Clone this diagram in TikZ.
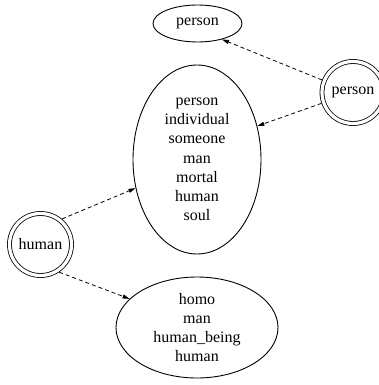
\documentclass[tikz,border=0pt]{standalone}
\usepackage{fontspec}
\setmainfont{Liberation Serif}
\usetikzlibrary{arrows.meta,shapes.geometric}
\begin{document}
\begin{tikzpicture}[x=1pt,y=-1pt,
  every node/.style={font=\fontsize{16}{19.2}\selectfont, align=center},
  sense/.style={ellipse, draw, line width=0.9pt, inner sep=0pt},
  word/.style={circle, draw, line width=0.8pt, double, double distance=3.2pt,
               minimum size=62pt, inner sep=0pt, outer sep=2.4pt},
  link/.style={-{Triangle[length=7pt,width=4pt]}, line width=0.8pt,
               dash pattern=on 4pt off 3pt}]
  \useasboundingbox (0,0) rectangle (379,385);

  % synsets
  \node[sense, minimum width=89pt, minimum height=37pt] (top) at (197.5,23.5) {person};
  \node[sense, minimum width=128pt, minimum height=189pt] (big) at (197,159.5)
    {person\\individual\\someone\\man\\mortal\\human\\soul};
  \node[sense, minimum width=162pt, minimum height=101pt, inner ysep=-3pt] (low) at (197,327.5)
    {homo\\man\\human\_being\\human};

  % words
  \node[word] (pw) at (353,92.5) {person};
  \node[word] (hw) at (40.5,244.5) {human};

  % sense links
  \draw[link] (pw.158) -- (top.-33);
  \draw[link] (pw.-161) -- (big.29.5);
  \draw[link] (hw.50) -- (big.205.4);
  \draw[link] (hw.-56) -- (low.157.3);
\end{tikzpicture}
\end{document}
